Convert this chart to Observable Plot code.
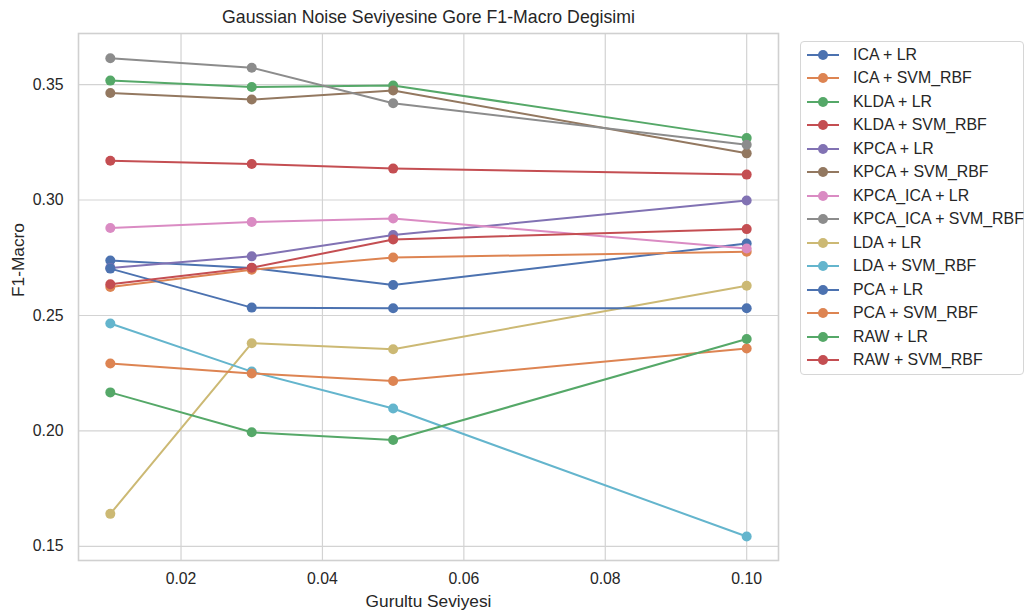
<!DOCTYPE html>
<html>
<head>
<meta charset="utf-8">
<script src="https://cdn.jsdelivr.net/npm/d3@7"></script>
<script src="https://cdn.jsdelivr.net/npm/@observablehq/plot@0.6"></script>
<style>
  html, body { margin: 0; padding: 0; background: #fff; }
  #wrap { position: relative; width: 1026px; height: 615px; font-family: "Liberation Sans", Arial, sans-serif; }
  #legend { position: absolute; left: 800px; top: 41px; width: 224px; box-sizing: border-box;
            border: 1px solid #d6d6d6; border-radius: 4px; background: #fff; padding: 1px 0 2px 0; }
  .row { height: 23.5px; display: flex; align-items: center; font-size: 15.9px; color: #262626; white-space: nowrap; }
  .row svg { margin-left: 5px; margin-right: 13px; flex: none; }
</style>
</head>
<body>
<div id="wrap"><div id="legend"></div></div>
<script>
const noise = [0.01, 0.03, 0.05, 0.10];

const seriesNames = [
  "ICA + LR", "ICA + SVM_RBF", "KLDA + LR", "KLDA + SVM_RBF", "KPCA + LR",
  "KPCA + SVM_RBF", "KPCA_ICA + LR", "KPCA_ICA + SVM_RBF", "LDA + LR", "LDA + SVM_RBF",
  "PCA + LR", "PCA + SVM_RBF", "RAW + LR", "RAW + SVM_RBF"
];

const icaLR        = [0.2738, 0.2706, 0.2632, 0.2812];
const icaSVM       = [0.2623, 0.2698, 0.2751, 0.2776];
const kldaLR       = [0.3517, 0.3489, 0.3496, 0.3268];
const kldaSVM      = [0.3170, 0.3156, 0.3136, 0.3110];
const kpcaLR       = [0.2706, 0.2756, 0.2848, 0.2998];
const kpcaSVM      = [0.3463, 0.3435, 0.3474, 0.3202];
const kpcaIcaLR    = [0.2879, 0.2905, 0.2920, 0.2790];
const kpcaIcaSVM   = [0.3614, 0.3573, 0.3419, 0.3239];
const ldaLR        = [0.1641, 0.2380, 0.2354, 0.2629];
const ldaSVM       = [0.2465, 0.2257, 0.2097, 0.1543];
const pcaLR        = [0.2703, 0.2534, 0.2531, 0.2531];
const pcaSVM       = [0.2292, 0.2249, 0.2216, 0.2357];
const rawLR        = [0.2167, 0.1994, 0.1961, 0.2398];
const rawSVM       = [0.2635, 0.2707, 0.2829, 0.2874];

const seriesValues = [icaLR, icaSVM, kldaLR, kldaSVM, kpcaLR, kpcaSVM, kpcaIcaLR,
  kpcaIcaSVM, ldaLR, ldaSVM, pcaLR, pcaSVM, rawLR, rawSVM];

const palette = ["#4C72B0", "#DD8452", "#55A868", "#C44E52", "#8172B3",
  "#937860", "#DA8BC3", "#8C8C8C", "#CCB974", "#64B5CD"];

const xTicks = [0.02, 0.04, 0.06, 0.08, 0.10];
const yTicks = [0.15, 0.20, 0.25, 0.30, 0.35];

const title = "Gaussian Noise Seviyesine Gore F1-Macro Degisimi";
const xLabel = "Gurultu Seviyesi";
const yLabel = "F1-Macro";

const rows = [];
seriesNames.forEach((name, i) => {
  seriesValues[i].forEach((v, j) => rows.push({series: name, idx: i, noise: noise[j], f1: v}));
});

const seriesMarks = [];
seriesNames.forEach((name, i) => {
  const d = rows.filter(r => r.series === name);
  const c = palette[i % palette.length];
  seriesMarks.push(Plot.line(d, {x: "noise", y: "f1", stroke: c, strokeWidth: 2}));
  seriesMarks.push(Plot.dot(d, {x: "noise", y: "f1", fill: c, r: 5, stroke: "none"}));
});

const chart = Plot.plot({
  width: 1026,
  height: 615,
  marginLeft: 78,
  marginRight: 248,
  marginTop: 33,
  marginBottom: 55,
  style: {fontFamily: '"Liberation Sans", Arial, sans-serif', background: "transparent", color: "#262626"},
  x: {domain: [0.0055, 0.1045]},
  y: {domain: [0.1439, 0.3721]},
  marks: [
    Plot.gridX(xTicks, {stroke: "#d3d3d3", strokeOpacity: 1, strokeWidth: 1.2}),
    Plot.gridY(yTicks, {stroke: "#d3d3d3", strokeOpacity: 1, strokeWidth: 1.2}),
    Plot.axisX(xTicks, {tickSize: 0, tickPadding: 12, tickFormat: d3.format(".2f"), fontSize: 15.8, label: null, fill: "#262626"}),
    Plot.axisY(yTicks, {tickSize: 0, tickPadding: 15, tickFormat: d3.format(".2f"), fontSize: 15.8, label: null, fill: "#262626"}),
    ...seriesMarks,
    Plot.frame({stroke: "#d0d0d0", strokeWidth: 1.6}),
    Plot.text([title], {frameAnchor: "top", dy: -16, fontSize: 17.7, fill: "#262626", lineAnchor: "middle"}),
    Plot.text([xLabel], {frameAnchor: "bottom", dy: 41, fontSize: 17.3, fill: "#262626", lineAnchor: "middle"}),
    Plot.text([yLabel], {frameAnchor: "left", dx: -60, rotate: -90, fontSize: 17.3, fill: "#262626", lineAnchor: "middle"})
  ]
});
chart.style.position = "absolute";
chart.style.left = "0px";
chart.style.top = "0px";
const wrap = document.getElementById("wrap");
wrap.insertBefore(chart, wrap.firstChild);

const legend = document.getElementById("legend");
seriesNames.forEach((name, i) => {
  const c = palette[i % palette.length];
  const row = document.createElement("div");
  row.className = "row";
  row.innerHTML = `<svg width="34" height="12"><line x1="1" y1="6" x2="33" y2="6" stroke="${c}" stroke-width="2"/><circle cx="17" cy="6" r="5" fill="${c}"/></svg><span>${name}</span>`;
  legend.appendChild(row);
});
</script>
</body>
</html>
